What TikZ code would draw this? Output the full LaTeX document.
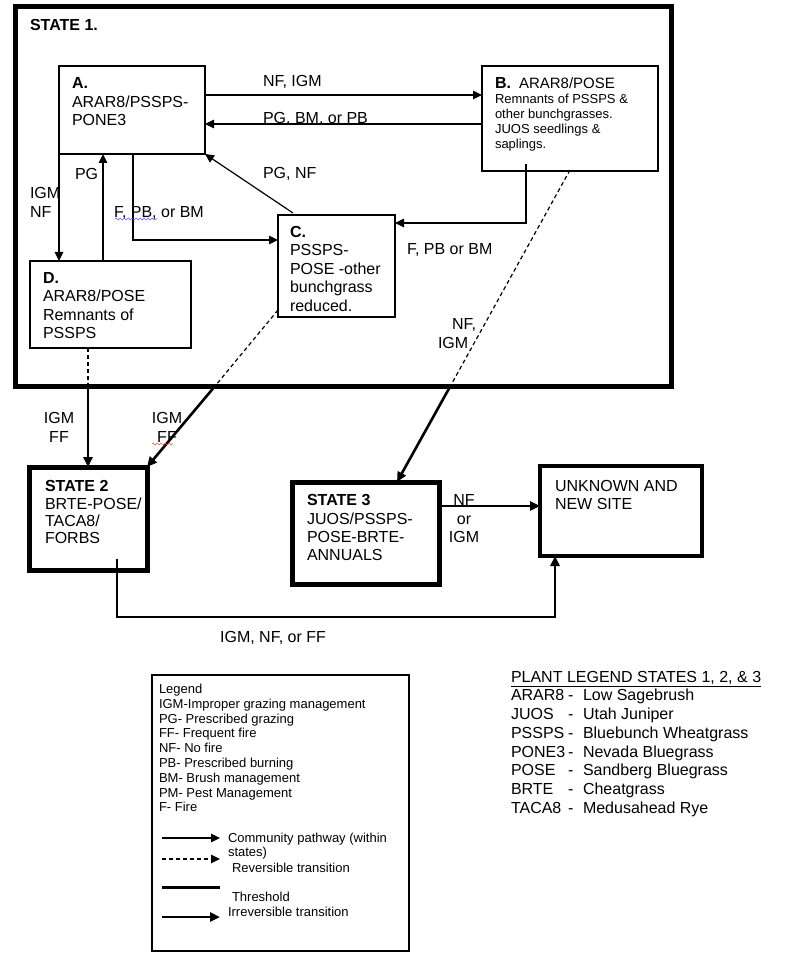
\documentclass[tikz,border=0pt]{standalone}
\usepackage{fontspec}
\setmainfont{Liberation Sans}
\usetikzlibrary{arrows.meta,calc,decorations.pathmorphing}
\begin{document}
\begin{tikzpicture}[x=1pt,y=-1pt,
  every node/.style={inner sep=0pt, outer sep=0pt},
  box/.style={draw, line width=1.2pt, anchor=north west},
  sbox/.style={draw, line width=5pt, anchor=north west},
  t/.style={anchor=west, font=\fontsize{16}{19}\selectfont, text height=11.4pt, text depth=0pt},
  tc/.style={t, anchor=center},
  tb/.style={t, font=\fontsize{16}{19}\selectfont\bfseries},
  ts/.style={anchor=west, font=\fontsize{13}{15}\selectfont, text height=9.3pt, text depth=0pt},
  tp/.style={anchor=west, font=\fontsize{16}{19}\selectfont, text height=11.5pt, text depth=0pt},
  pw/.style={line width=1.2pt, -{Triangle[length=9pt,width=8.5pt]}},
  thk/.style={line width=2.6pt, -{Triangle[length=10pt,width=9pt]}},
  dsh/.style={line width=1.2pt, dash pattern=on 4pt off 3pt},
  squig/.style={line width=0.6pt, decorate, decoration={snake, amplitude=0.9pt, segment length=4pt}},
]
\useasboundingbox (0,0) rectangle (800,957);
\fill[white] (0,0) rectangle (800,957);

% ---------- State 1 frame ----------
\node[sbox, minimum width=655.5pt, minimum height=379pt] (S1) at (15.5,7) {};
\node[tb] (S1t) at (30,25) {STATE 1.};

% ---------- community boxes ----------
\node[box, minimum width=146pt, minimum height=88pt] (A) at (59,66) {};
\node[tb] (A1) at (72,83) {A.};
\node[t] (A2) at (72,101.5) {ARAR8/PSSPS-};
\node[t] (A3) at (72,119.5) {PONE3};

\node[box, minimum width=176pt, minimum height=105pt] (B) at (482,66) {};
\node[tb] (B1) at (495,83) {B.};
\node[t, font=\fontsize{15}{18}\selectfont] (B2) at (519,83) {ARAR8/POSE};
\node[ts] (B3) at (495,99) {Remnants of PSSPS \&};
\node[ts] (B4) at (495,114) {other bunchgrasses.};
\node[ts] (B5) at (495,129) {JUOS seedlings \&};
\node[ts] (B6) at (495,144) {saplings.};

\node[box, minimum width=117pt, minimum height=102pt] (C) at (278,215) {};
\node[tb] (C1) at (290,232) {C.};
\node[t] (C2) at (290,250) {PSSPS-};
\node[t] (C3) at (290,268.5) {POSE -other};
\node[t] (C4) at (290,287) {bunchgrass};
\node[t] (C5) at (290,305.5) {reduced.};

\node[box, minimum width=161pt, minimum height=87pt] (D) at (30,261) {};
\node[tb] (D1) at (43,278) {D.};
\node[t] (D2) at (43,296) {ARAR8/POSE};
\node[t] (D3) at (43,314.5) {Remnants of};
\node[t] (D4) at (43,333) {PSSPS};

% ---------- states 2, 3, unknown ----------
\node[sbox, minimum width=118pt, minimum height=103pt] (S2) at (29,467) {};
\node[tb] (S2a) at (45,486) {STATE 2};
\node[t] (S2b) at (45,503.5) {BRTE-POSE/};
\node[t] (S2c) at (45,520.5) {TACA8/};
\node[t] (S2d) at (45,537.5) {FORBS};

\node[sbox, minimum width=147pt, minimum height=102pt] (S3) at (292,482) {};
\node[tb] (S3a) at (307,500) {STATE 3};
\node[t] (S3b) at (307,518.3) {JUOS/PSSPS-};
\node[t] (S3c) at (307,536.7) {POSE-BRTE-};
\node[t] (S3d) at (307,555) {ANNUALS};

\node[sbox, line width=4.5pt, minimum width=162pt, minimum height=90pt] (U) at (540,466) {};
\node[t] (U1) at (555,486) {UNKNOWN AND};
\node[t] (U2) at (555,504) {NEW SITE};

% ---------- helper coordinates ----------
\coordinate (ab) at (0,95);
\coordinate (ba) at (0,124);
\coordinate (da) at (103,0);
\coordinate (ac) at (133,240);
\coordinate (ca) at (293,0);
\coordinate (bc) at (526,223);
\coordinate (d2) at (88,386);
\coordinate (c2) at (215.1,386);
\coordinate (b3x) at (570,0);
\coordinate (b3) at (450.4,386);
\coordinate (b3t) at (397,0);
\coordinate (s3u) at (0,506);
\coordinate (su) at (117,617);
\coordinate (uu) at (555,0);

% ---------- community pathways ----------
\draw[pw] (A.east |- ab) -- (B.west |- ab);
\draw[pw] (B.west |- ba) -- (A.east |- ba);
\draw[pw] (A.south west) -- (A.south west |- D.north);
\draw[pw] (D.north -| da) -- (A.south -| da);
\draw[pw] (A.south -| ac) |- (C.west |- ac);
\draw[pw] ($(C.north -| ca)+(0,-2)$) -- (A.south east);
\draw[pw] ($(B.south -| bc)+(0,-7)$) |- (C.east |- bc);

% ---------- transitions ----------
\draw[dsh] (D.south -| d2) -- (d2);
\draw[thk] (d2) -- (S2.north -| d2);
\draw[dsh] ($(C.south west)+(0,-7)$) -- (c2);
\draw[thk] (c2) -- (S2.north east);
\draw[dsh] ($(B.south -| b3x)+(0,-1)$) -- (b3);
\draw[thk] (b3) -- (S3.north -| b3t);
\draw[thk] (S3.east |- s3u) -- (U.west |- s3u);
\draw[thk] ($(S2.south -| su)+(0,-11)$) -- (su) -| (U.south -| uu);

% ---------- labels ----------
\node[t] (l1) at (263,81) {NF, IGM};
\node[t] (l2) at (263,118) {PG, BM, or PB};
\node[t] (l3) at (263,173) {PG, NF};
\node[t] (l4) at (30,193) {IGM};
\node[t] (l5) at (30,212) {NF};
\node[t] (l6) at (75,174) {PG};
\node[t] (l7) at (114,212) {F, PB, or BM};
\draw[squig, blue!65] (115,219) -- (157,219);
\node[t] (l8) at (407,249) {F, PB or BM};
\node[t] (l9) at (452,324) {NF,};
\node[t] (l10) at (438,343) {IGM};
\node[tc] (l11) at (59,418) {IGM};
\node[tc] (l12) at (59,437) {FF};
\node[tc] (l13) at (167,418) {IGM};
\node[tc] (l14) at (167,437) {FF};
\draw[squig, red!70] (152,444) -- (173,444);
\node[tc] (l15) at (464,500) {NF};
\node[tc] (l16) at (464,519) {or};
\node[tc] (l17) at (464,537) {IGM};
\node[tc] (l18) at (273,637) {IGM, NF, or FF};

% ---------- legend ----------
\node[box, minimum width=257pt, minimum height=276pt] (L) at (152,675) {};
\node[ts] (L1) at (159,689) {Legend};
\node[ts] (L2) at (159,703.5) {IGM-Improper grazing management};
\node[ts] (L3) at (159,718.5) {PG- Prescribed grazing};
\node[ts] (L4) at (159,733.3) {FF- Frequent fire};
\node[ts] (L5) at (159,748.3) {NF- No fire};
\node[ts] (L6) at (159,763.3) {PB- Prescribed burning};
\node[ts] (L7) at (159,777.7) {BM- Brush management};
\node[ts] (L8) at (159,792.7) {PM- Pest Management};
\node[ts] (L9) at (159,807.3) {F- Fire};

\coordinate (k1a) at (162,838);  \coordinate (k1b) at (220,838);
\coordinate (k2a) at (162,859);  \coordinate (k2b) at (220,859);
\coordinate (k3a) at (162,887);  \coordinate (k3b) at (220,887);
\coordinate (k4a) at (162,917);  \coordinate (k4b) at (220,917);
\draw[pw] (k1a) -- (k1b);
\draw[dsh, -{Triangle[length=9pt,width=8.5pt]}] (k2a) -- (k2b);
\draw[line width=3pt] (k3a) -- (k3b);
\draw[thk] (k4a) -- (k4b);
\node[ts] (K1) at (228,837.7) {Community pathway (within};
\node[ts] (K2) at (228,851.7) {states)};
\node[ts] (K3) at (232,867.7) {Reversible transition};
\node[ts] (K4) at (232,897.3) {Threshold};
\node[ts] (K5) at (228,912.3) {Irreversible transition};

% ---------- plant legend ----------
\node[tp] (P0) at (511,676.7) {\underline{PLANT LEGEND STATES 1, 2, \& 3}};
\foreach \c/\n/\y [count=\i] in {ARAR8/Low Sagebrush/695, JUOS/Utah Juniper/714, PSSPS/Bluebunch Wheatgrass/732.7, PONE3/Nevada Bluegrass/751.7, POSE/Sandberg Bluegrass/770, BRTE/Cheatgrass/789, TACA8/Medusahead Rye/807.7}{
  \node[tp] (Pc\i) at (511,\y) {\c};
  \node[tp] (Pd\i) at (568,\y) {-};
  \node[tp] (Pn\i) at (583,\y) {\n};
}
\end{tikzpicture}
\end{document}
